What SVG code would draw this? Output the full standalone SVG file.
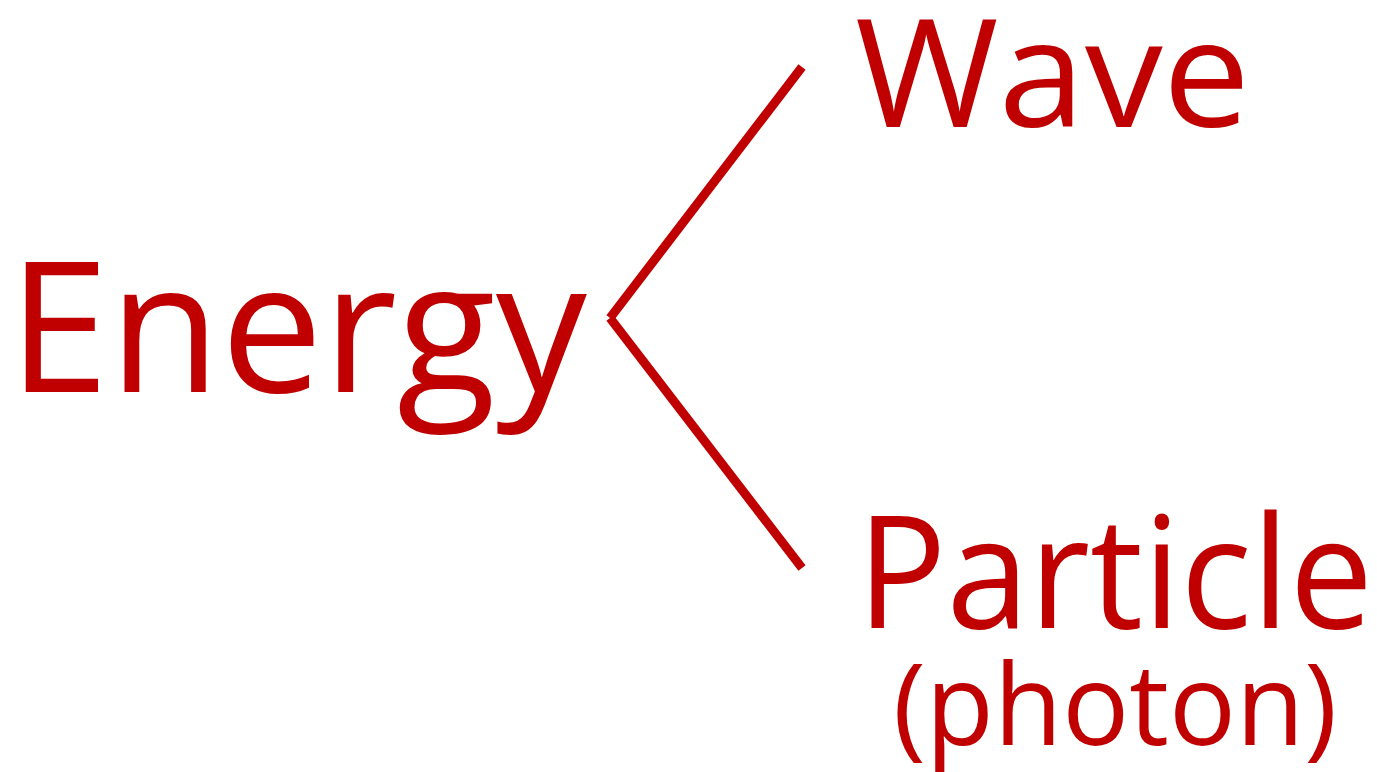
<svg xmlns="http://www.w3.org/2000/svg" width="1377" height="772" viewBox="0 0 1377 772">
<style>
.t{font-family:"Open Sans","Noto Sans",sans-serif;fill:#C00000}
.c{stroke:#C00000;stroke-width:9;fill:none}
</style>
<rect width="1377" height="772" fill="#fff"/>
<g id="energy"><text class="t" x="8" y="392" font-size="182" textLength="579" lengthAdjust="spacingAndGlyphs">Energy</text></g>
<g id="wave"><text class="t" x="855" y="127" font-size="150" textLength="395" lengthAdjust="spacingAndGlyphs">Wave</text></g>
<g id="particle"><text class="t" x="857" y="628" font-size="156" textLength="516" lengthAdjust="spacingAndGlyphs">Particle</text><text class="t" x="893" y="745" font-size="114" textLength="444" lengthAdjust="spacingAndGlyphs">(photon)</text></g>
<g id="connectors">
<line class="c" x1="802" y1="67" x2="610" y2="318"/>
<line class="c" x1="610" y1="318" x2="802" y2="568"/>
</g>
</svg>
